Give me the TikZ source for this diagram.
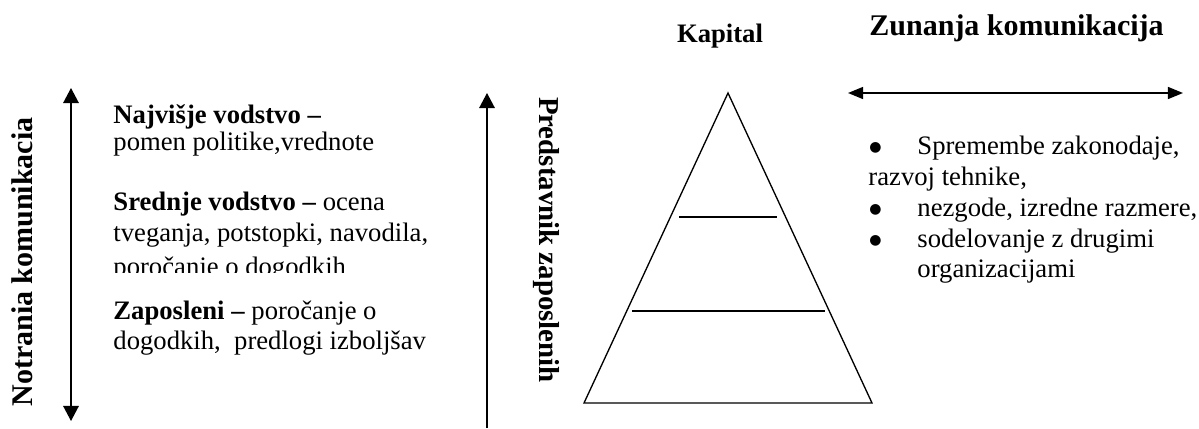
\documentclass[tikz,border=0pt]{standalone}
\usepackage{fontspec}
\setmainfont{Liberation Serif}
\newfontfamily\symfont{DejaVu Sans}
\usetikzlibrary{arrows.meta}
\newcommand{\listdot}{\raisebox{1.3pt}{\symfont\fontsize{6.3}{7}\selectfont ●}}
\begin{document}
\begin{tikzpicture}[x=0.45pt,y=-0.45pt,
  body/.style={anchor=base west,inner sep=0pt,font=\fontsize{12}{13.8}\selectfont},
  vtitle/.style={inner sep=0pt,font=\fontsize{13.5}{15}\selectfont\bfseries},
  htitle/.style={anchor=base west,inner sep=0pt,font=\fontsize{13.5}{15}\selectfont\bfseries},
  vflow/.style={line width=0.7pt,-{Triangle[length=6.8pt,width=7pt]}},
  hflow/.style={line width=0.7pt,{Triangle[length=6.8pt,width=5.4pt]}-{Triangle[length=6.8pt,width=5.4pt]}},
  pyr/.style={line width=0.6pt,line join=miter}]
\useasboundingbox (0,0) rectangle (1199,428);

% internal communication axis
\coordinate (inTop) at (71,88);
\coordinate (inBot) at (71,421);
\draw[line width=0.7pt,{Triangle[length=6.8pt,width=7pt]}-{Triangle[length=6.8pt,width=7pt]}] (inTop) -- (inBot);
\node[vtitle,rotate=90] (inLabel) at (22,262) {Notrania komunikacia};

% levels of management
\node[body] (top1) at (113,123) {\textbf{Najvišje vodstvo –}};
\node[body] (top2) at (113,150) {pomen politike,vrednote};
\begin{scope}
  % the middle text box cuts off its last line
  \clip (100,180) rectangle (470,272);
  \node[body] (mid1) at (113,210) {\textbf{Srednje vodstvo –} ocena};
  \node[body] (mid2) at (113,241) {tveganja, potstopki, navodila,};
  \node[body] (mid3) at (113,275) {poročanje o dogodkih};
\end{scope}
\node[body] (low1) at (113,319) {\textbf{Zaposleni –} poročanje o};
\node[body] (low2) at (113,349) {dogodkih,\ \ predlogi izboljšav};

% employee representative axis
\coordinate (repBot) at (487,428);
\coordinate (repTop) at (487,93);
\draw[vflow] (repBot) -- (repTop);
\node[vtitle,font=\fontsize{13}{15}\selectfont\bfseries,rotate=-90] (repLabel) at (546,240) {Predstavnik zaposlenih};

% pyramid
\coordinate (apex) at (728,93);
\coordinate (baseL) at (584,403);
\coordinate (baseR) at (872,403);
\draw[pyr] (apex) -- (baseR) -- (baseL) -- cycle;
\coordinate (l1a) at (679,217);
\coordinate (l1b) at (777,217);
\coordinate (l2a) at (632,311);
\coordinate (l2b) at (825,311);
\draw[pyr] (l1a) -- (l1b);
\draw[pyr] (l2a) -- (l2b);
\node[anchor=base,inner sep=0pt,font=\fontsize{12}{14}\selectfont\bfseries] (capital) at (720,42) {Kapital};

% external communication
\node[htitle] (exLabel) at (869,35) {Zunanja komunikacija};
\coordinate (exL) at (848,93);
\coordinate (exR) at (1183,93);
\draw[hflow] (exL) -- (exR);

\node[body] (b1) at (869,154) {\listdot};
\node[body] (e1) at (917,154) {Spremembe zakonodaje,};
\node[body] (e1b) at (868,185) {razvoj tehnike,};
\node[body] (b2) at (869,216) {\listdot};
\node[body] (e2) at (917,216) {nezgode, izredne razmere,};
\node[body] (b3) at (869,247) {\listdot};
\node[body] (e3) at (917,247) {sodelovanje z drugimi};
\node[body] (e3b) at (917,277) {organizacijami};
\end{tikzpicture}
\end{document}
